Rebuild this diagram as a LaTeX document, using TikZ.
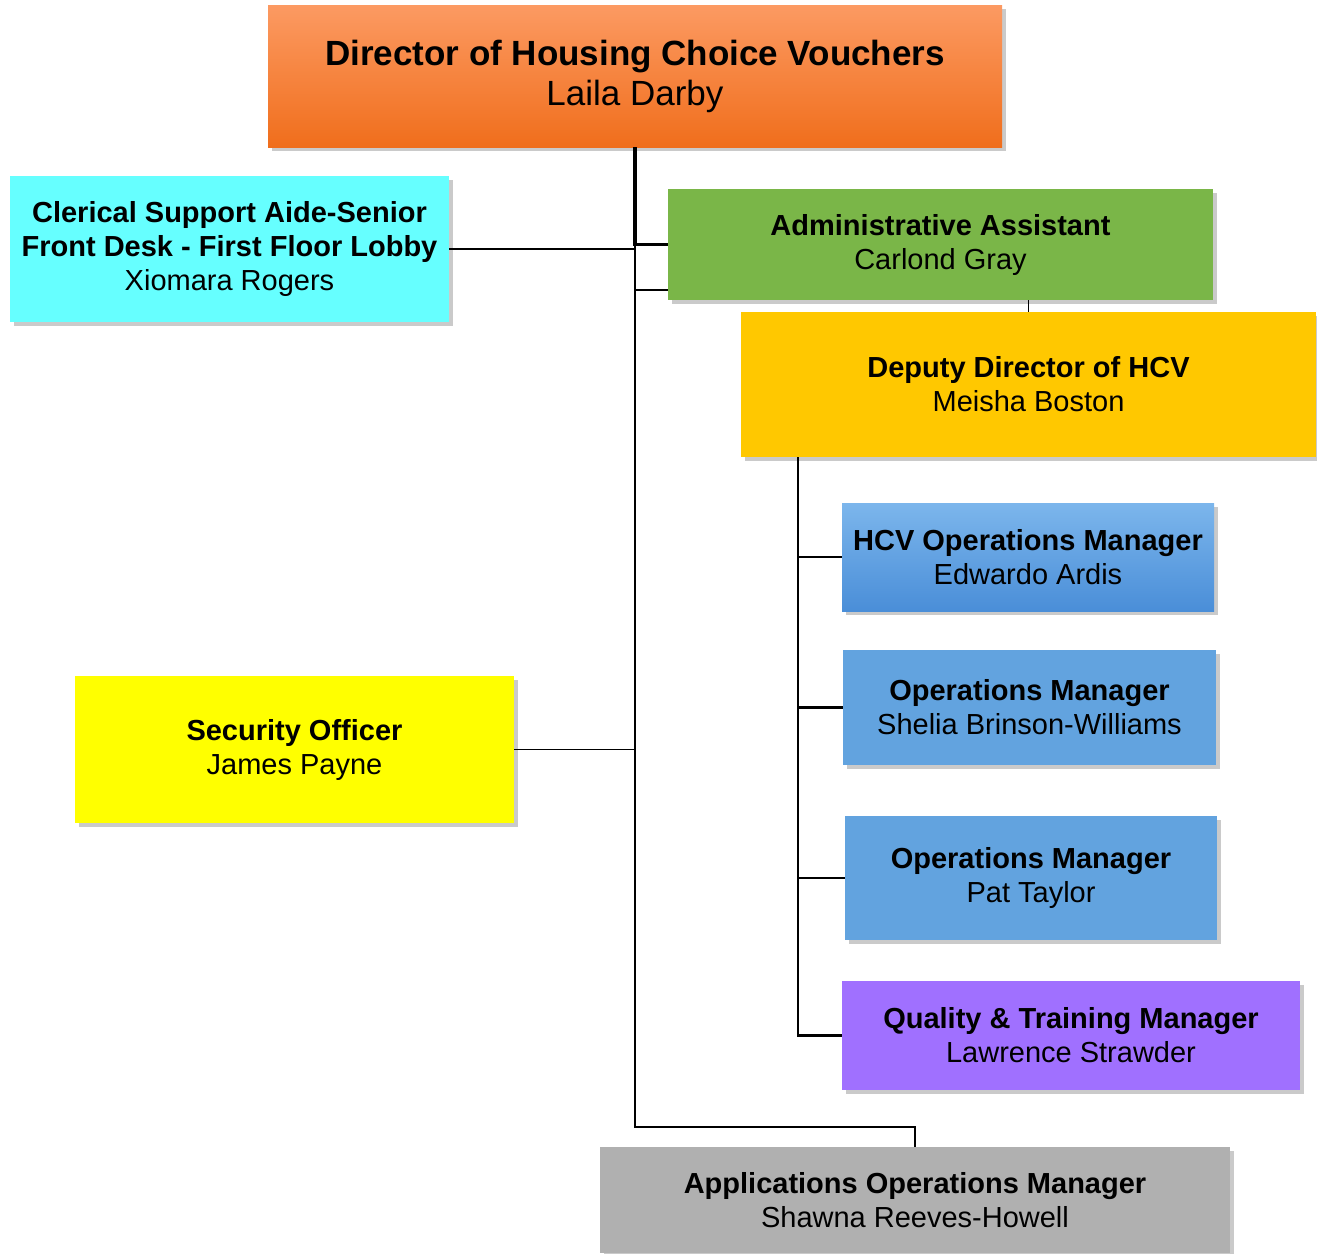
\documentclass[tikz,border=0pt]{standalone}
\usepackage{fontspec}
\setmainfont{Liberation Sans}
\usepackage{tikz}
\usetikzlibrary{shadows,calc}
\definecolor{dirtop}{HTML}{FC9A62}
\definecolor{dirbot}{HTML}{F06E1C}
\definecolor{clercyan}{HTML}{66FFFF}
\definecolor{admgreen}{HTML}{7AB648}
\definecolor{depgold}{HTML}{FFC800}
\definecolor{hcvtop}{HTML}{7CB6EC}
\definecolor{hcvbot}{HTML}{4A8ED8}
\definecolor{opsblue}{HTML}{62A3DF}
\definecolor{qualpurple}{HTML}{A070FF}
\definecolor{secyellow}{HTML}{FFFF00}
\definecolor{appgray}{HTML}{B0B0B0}
\tikzstyle{box}=[draw=none,align=center,inner sep=0pt,
  font=\fontsize{29}{34}\selectfont,
  drop shadow={shadow xshift=4pt,shadow yshift=-4pt,opacity=0.35,fill=black!60}]
\tikzstyle{line}=[black,line width=1.5pt]
\tikzstyle{heavyline}=[black,line width=3.5pt]
\tikzstyle{midline}=[black,line width=2.5pt]

\begin{document}
\begin{tikzpicture}[x=1pt,y=-1pt]
	\useasboundingbox (0,0) rectangle (1317,1253);

	% boxes
	\node[box,top color=dirtop,bottom color=dirbot,minimum width=734pt,minimum height=142pt,
	  font=\fontsize{35}{40}\selectfont] (dir) at (635,76)
	  {\textbf{Director of Housing Choice Vouchers}\\Laila Darby};
	\node[box,fill=clercyan,minimum width=439pt,minimum height=146pt] (cler) at (229.5,249)
	  {\textbf{Clerical Support Aide-Senior}\\\textbf{Front Desk - First Floor Lobby}\\Xiomara Rogers};
	\node[box,fill=admgreen,minimum width=545pt,minimum height=111pt] (admin) at (940.5,244.5)
	  {\textbf{Administrative Assistant}\\Carlond Gray};
	\node[box,fill=depgold,minimum width=575pt,minimum height=145pt] (dep) at (1028.5,384.5)
	  {\textbf{Deputy Director of HCV}\\Meisha Boston};
	\node[box,top color=hcvtop,bottom color=hcvbot,minimum width=372pt,minimum height=108pt] (hcv) at (1028,557)
	  {\textbf{HCV Operations Manager}\\Edwardo Ardis};
	\node[box,fill=opsblue,minimum width=373pt,minimum height=115pt] (opsa) at (1029.5,707.5)
	  {\textbf{Operations Manager}\\Shelia Brinson-Williams};
	\node[box,fill=opsblue,minimum width=372pt,minimum height=124pt] (opsb) at (1031,878)
	  {\textbf{Operations Manager}\\Pat Taylor};
	\node[box,fill=qualpurple,minimum width=458pt,minimum height=109pt] (qual) at (1071,1035.5)
	  {\textbf{Quality \& Training Manager}\\Lawrence Strawder};
	\node[box,fill=secyellow,minimum width=439pt,minimum height=147pt] (sec) at (294.5,749.5)
	  {\textbf{Security Officer}\\James Payne};
	\node[box,fill=appgray,minimum width=630pt,minimum height=106pt] (app) at (915,1200)
	  {\textbf{Applications Operations Manager}\\Shawna Reeves-Howell};

	% director trunk
	\coordinate (appjoin) at (635,1127);
	\draw[line] (dir.south) -- (appjoin) -| (app.north);
	\draw[midline] (admin.west -| dir.south) -- (sec.east -| dir.south);
	\draw[heavyline] (dir.south) |- (admin.west);
	\draw[line] (cler.east) -- (cler.east -| dir.south);
	\draw[line] ([yshift=-45.5pt]admin.west) -- ([yshift=-45.5pt]admin.west -| dir.south);
	\draw[line] (sec.east) -- (sec.east -| dir.south);
	\draw[line] (admin.south -| dep.north) -- (dep.north);

	% deputy trunk
	\coordinate (deptrunk) at ([xshift=57pt]dep.south west);
	\draw[midline] (deptrunk) |- (qual.west);
	\draw[line] (hcv.west -| deptrunk) -- (hcv.west);
	\draw[midline] (opsa.west -| deptrunk) -- (opsa.west);
	\draw[midline] (opsb.west -| deptrunk) -- (opsb.west);
\end{tikzpicture}
\end{document}
